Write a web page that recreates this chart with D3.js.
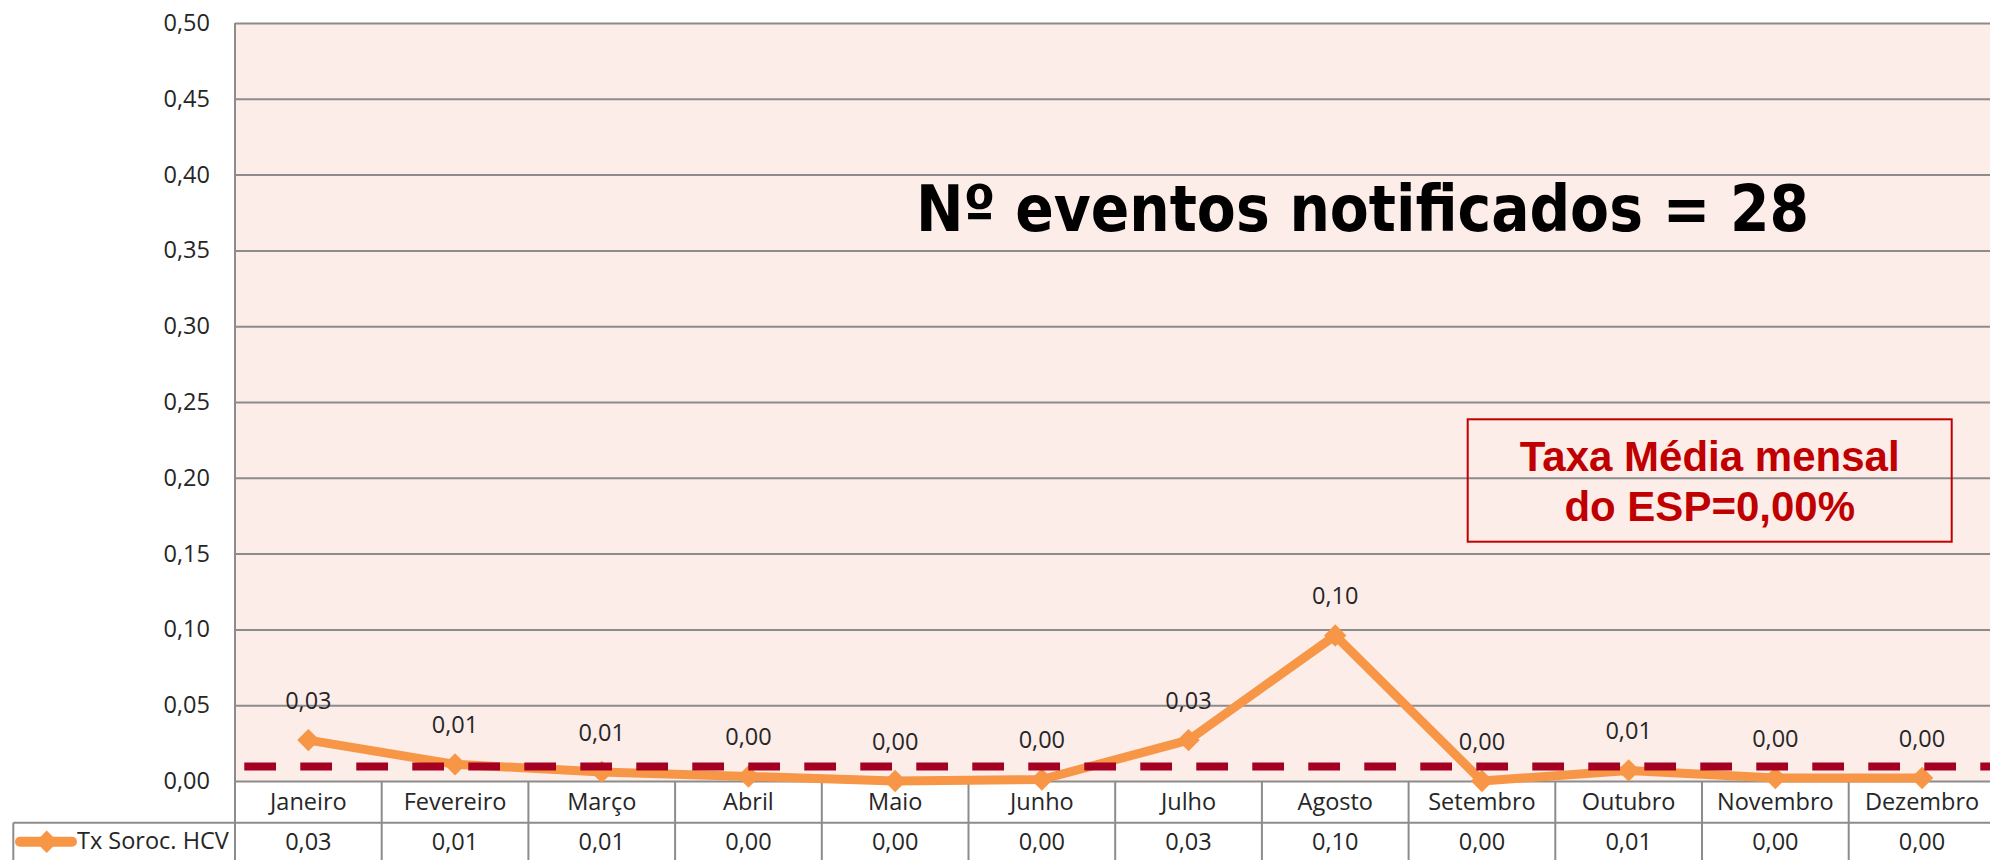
<!DOCTYPE html>
<html>
<head>
<meta charset="utf-8">
<script src="https://cdn.jsdelivr.net/npm/d3@7"></script>
<style>
  html, body { margin: 0; padding: 0; background: #fff; }
  svg { display: block; }
</style>
</head>
<body>
<div id="chart"></div>
<script>
// Data
const months = ['Janeiro', 'Fevereiro', 'Março', 'Abril', 'Maio', 'Junho',
  'Julho', 'Agosto', 'Setembro', 'Outubro', 'Novembro', 'Dezembro'];
const txSorocHCV = [0.027, 0.011, 0.006, 0.003, 0.000, 0.001,
  0.027, 0.096, 0.000, 0.007, 0.002, 0.002];
const mediaESP = 0.0095; // dashed reference line
const yTicks = [0, 0.05, 0.10, 0.15, 0.20, 0.25, 0.30, 0.35, 0.40, 0.45, 0.50];
const seriesName = 'Tx Soroc. HCV';
const titleText = 'Nº eventos notificados = 28';
const boxLines = ['Taxa Média mensal', 'do ESP=0,00%'];

const width = 1990;
const height = 860;

const plotLeft = 235;
const colWidth = 146.7;
const plotRight = plotLeft + colWidth * months.length;
const plotTop = 23;
const plotBottom = 781;
const catRowBottom = 822.7;

const gridColor = '#8c8c8c';
const textColor = '#262626';
const orange = '#f79646';
const font = '"Open Sans", Lato, sans-serif';
const fontSize = '23.5px';

const fmt = d3.formatLocale({ decimal: ',', thousands: '.', grouping: [3], currency: ['R$', ''] }).format('.2f');

const svg = d3.select('#chart').append('svg')
  .attr('width', width)
  .attr('height', height)
  .attr('viewBox', `0 0 ${width} ${height}`);

const x = d3.scaleBand()
  .domain(months)
  .range([plotLeft, plotRight]);

const y = d3.scaleLinear()
  .domain([0, 0.5])
  .range([plotBottom, plotTop]);

// Plot background
svg.append('rect')
  .attr('x', plotLeft)
  .attr('y', plotTop)
  .attr('width', plotRight - plotLeft)
  .attr('height', plotBottom - plotTop)
  .attr('fill', '#fcede9');

// Gridlines
svg.append('g')
  .attr('transform', `translate(${plotLeft},0)`)
  .call(d3.axisLeft(y).tickValues(yTicks).tickSize(-(plotRight - plotLeft)).tickFormat(''))
  .call(g => g.select('.domain').remove())
  .call(g => g.selectAll('line').attr('stroke', gridColor).attr('stroke-width', 2));

// Y axis labels
svg.append('g')
  .attr('transform', `translate(${plotLeft},0)`)
  .call(d3.axisLeft(y).tickValues(yTicks).tickSize(0).tickPadding(25).tickFormat(fmt))
  .call(g => g.select('.domain').remove())
  .call(g => g.selectAll('text')
    .attr('fill', textColor)
    .style('font-family', font)
    .style('font-size', fontSize));

// Data table below the plot
const table = svg.append('g');

table.append('line')
  .attr('x1', plotLeft).attr('x2', plotLeft)
  .attr('y1', plotTop).attr('y2', height)
  .attr('stroke', gridColor).attr('stroke-width', 2);

table.selectAll('line.col')
  .data(months)
  .join('line')
  .attr('class', 'col')
  .attr('x1', d => x(d) + x.bandwidth())
  .attr('x2', d => x(d) + x.bandwidth())
  .attr('y1', plotBottom)
  .attr('y2', height)
  .attr('stroke', gridColor)
  .attr('stroke-width', 2);

table.append('line')
  .attr('x1', 13.3).attr('x2', plotRight)
  .attr('y1', catRowBottom).attr('y2', catRowBottom)
  .attr('stroke', gridColor).attr('stroke-width', 2);

table.append('line')
  .attr('x1', 13.3).attr('x2', 13.3)
  .attr('y1', catRowBottom).attr('y2', height)
  .attr('stroke', gridColor).attr('stroke-width', 2);

table.selectAll('text.cat')
  .data(months)
  .join('text')
  .attr('class', 'cat')
  .attr('x', d => x(d) + x.bandwidth() / 2)
  .attr('y', 810)
  .attr('text-anchor', 'middle')
  .attr('fill', textColor)
  .style('font-family', font)
  .style('font-size', fontSize)
  .text(d => d);

table.selectAll('text.val')
  .data(txSorocHCV)
  .join('text')
  .attr('class', 'val')
  .attr('x', (d, i) => x(months[i]) + x.bandwidth() / 2)
  .attr('y', 850)
  .attr('text-anchor', 'middle')
  .attr('fill', textColor)
  .style('font-family', font)
  .style('font-size', fontSize)
  .text(d => fmt(d));

// Legend key in the table
const diamond = d3.symbol(d3.symbolSquare, 250);

table.append('line')
  .attr('x1', 20).attr('x2', 72)
  .attr('y1', 841.7).attr('y2', 841.7)
  .attr('stroke', orange)
  .attr('stroke-width', 10)
  .attr('stroke-linecap', 'round');

table.append('path')
  .attr('d', diamond)
  .attr('transform', 'translate(46.7,841.7) rotate(45)')
  .attr('fill', orange);

table.append('text')
  .attr('x', 77)
  .attr('y', 849)
  .attr('fill', textColor)
  .style('font-family', font)
  .style('font-size', fontSize)
  .text(seriesName);

// Series line
const line = d3.line()
  .x((d, i) => x(months[i]) + x.bandwidth() / 2)
  .y(d => y(d));

svg.append('path')
  .datum(txSorocHCV)
  .attr('d', line)
  .attr('fill', 'none')
  .attr('stroke', orange)
  .attr('stroke-width', 9)
  .attr('stroke-linejoin', 'round');

svg.selectAll('path.marker')
  .data(txSorocHCV)
  .join('path')
  .attr('class', 'marker')
  .attr('d', diamond)
  .attr('transform', (d, i) => `translate(${x(months[i]) + x.bandwidth() / 2},${y(d)}) rotate(45)`)
  .attr('fill', orange);

// Reference (mean) dashed line
svg.append('line')
  .attr('x1', 244.3)
  .attr('x2', plotRight)
  .attr('y1', y(mediaESP))
  .attr('y2', y(mediaESP))
  .attr('stroke', '#a50021')
  .attr('stroke-width', 8)
  .attr('stroke-dasharray', '31.7 24.3');

// Data labels
svg.selectAll('text.label')
  .data(txSorocHCV)
  .join('text')
  .attr('class', 'label')
  .attr('x', (d, i) => x(months[i]) + x.bandwidth() / 2)
  .attr('y', d => y(d) - 31)
  .attr('text-anchor', 'middle')
  .attr('fill', textColor)
  .style('font-family', font)
  .style('font-size', fontSize)
  .text(d => fmt(d));

// Title annotation
svg.append('text')
  .attr('x', 916)
  .attr('y', 231)
  .attr('textLength', 893)
  .attr('lengthAdjust', 'spacingAndGlyphs')
  .attr('fill', '#000')
  .style('font-family', '"DejaVu Sans Condensed", "DejaVu Sans", sans-serif')
  .style('font-weight', 'bold')
  .style('font-size', '64px')
  .text(titleText);

// Mean rate box
const box = svg.append('g');

box.append('rect')
  .attr('x', 1467.7)
  .attr('y', 419.3)
  .attr('width', 484)
  .attr('height', 122.4)
  .attr('fill', 'none')
  .attr('stroke', '#c00000')
  .attr('stroke-width', 2);

box.selectAll('text')
  .data(boxLines)
  .join('text')
  .attr('x', 1709.7)
  .attr('y', (d, i) => 471 + i * 49.7)
  .attr('text-anchor', 'middle')
  .attr('fill', '#c00000')
  .style('font-family', '"Liberation Sans", Arial, sans-serif')
  .style('font-weight', 'bold')
  .style('font-size', '42px')
  .text(d => d);
</script>
</body>
</html>
